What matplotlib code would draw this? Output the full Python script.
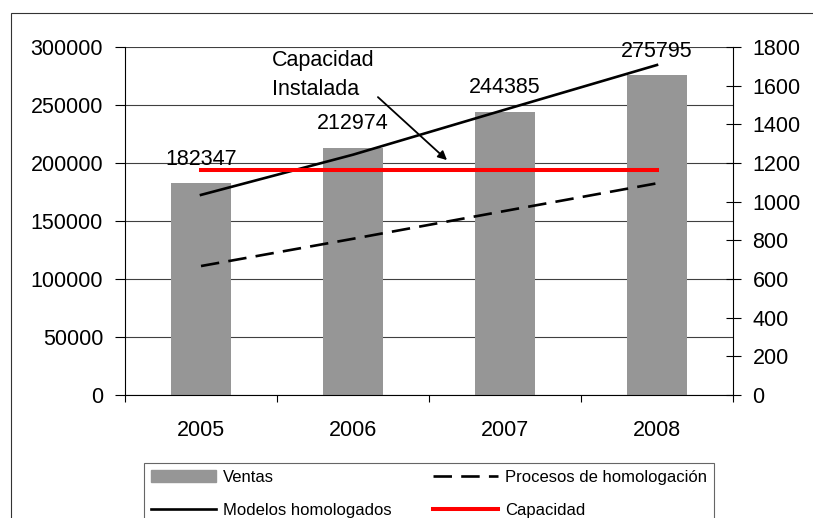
import matplotlib
matplotlib.use("Agg")
import matplotlib.pyplot as plt
from matplotlib.patches import Rectangle
from matplotlib.lines import Line2D
from matplotlib.ticker import FixedLocator

plt.rcParams['font.family'] = ['Liberation Sans', 'DejaVu Sans']

years = ['2005', '2006', '2007', '2008']
ventas = [182347, 212974, 244385, 275795]
modelos_homologados = [1035, 1243, 1476, 1707]
procesos_homologacion = [667, 808, 952, 1095]
capacidad = [1164, 1164, 1164, 1164]
left_ticks = [0, 50000, 100000, 150000, 200000, 250000, 300000]
right_ticks = [0, 200, 400, 600, 800, 1000, 1200, 1400, 1600, 1800]

W, H = 813, 518
fig = plt.figure(figsize=(W / 100, H / 100), dpi=100)
ax = fig.add_axes([125 / W, 1 - 395 / H, (733 - 125) / W, (395 - 47) / H])
ax2 = ax.twinx()

x = list(range(len(years)))
FS = 15.5

# bars
ax.bar(x, ventas, width=0.4, color='#969696', label='Ventas', zorder=2)
ax.set_axisbelow(True)
ax.set_xlim(-0.5, len(years) - 0.5)
ax.set_ylim(0, 300000)
ax.set_yticks(left_ticks)
ax.set_yticklabels([str(t) for t in left_ticks], fontsize=FS)
ax.yaxis.grid(True, color='#404040', lw=0.8)
ax.set_xticks(x)
ax.set_xticklabels(years, fontsize=FS)
ax.xaxis.set_minor_locator(FixedLocator([i - 0.5 for i in range(len(years) + 1)]))
ax.tick_params(axis='x', which='major', length=0, pad=18)
ax.tick_params(axis='x', which='minor', length=5, width=0.8, direction='out')
ax.tick_params(axis='y', length=7.2, width=0.8, direction='out', pad=8.6)
for s in ['top', 'right']:
    ax.spines[s].set_visible(False)
for s in ['left', 'bottom']:
    ax.spines[s].set_linewidth(0.8)

for xi, v in zip(x, ventas):
    ax.annotate(str(v), (xi, v), xytext=(0, 17.3), textcoords='offset points',
                ha='center', va='center', fontsize=FS)

# lines on secondary axis
ax2.plot(x, procesos_homologacion, color='black', lw=1.9, dashes=(7, 3.5),
         label='Procesos de homologación', zorder=3)
ax2.plot(x, modelos_homologados, color='black', lw=1.9,
         label='Modelos homologados', zorder=3)
ax2.plot(x, capacidad, color='#ff0000', lw=2.9, label='Capacidad', zorder=4)
ax2.set_ylim(0, 1800)
ax2.set_yticks(right_ticks)
ax2.set_yticklabels([str(t) for t in right_ticks], fontsize=FS)
ax2.tick_params(axis='y', length=10.8, width=0.8, direction='inout', pad=8.6)
for s in ['top', 'left', 'bottom']:
    ax2.spines[s].set_visible(False)
ax2.spines['right'].set_linewidth(0.8)

# annotation
ax.annotate('', xy=(0.5296, 0.675), xytext=(0.416, 0.856),
            xycoords='axes fraction', textcoords='axes fraction',
            arrowprops=dict(arrowstyle='-|>', color='black', lw=1.3,
                            mutation_scale=13, shrinkA=0, shrinkB=0))
ax.text(0.2418, 0.92, 'Capacidad\nInstalada', transform=ax.transAxes,
        ha='left', va='center', fontsize=FS, linespacing=1.5)

# legend
handles = [
    Rectangle((0, 0), 1, 1, color='#969696'),
    Line2D([], [], color='black', lw=1.9),
    Line2D([], [], color='black', lw=1.9, dashes=(7, 3.5)),
    Line2D([], [], color='#ff0000', lw=2.9),
]
labels = ['Ventas', 'Modelos homologados', 'Procesos de homologación', 'Capacidad']
leg = fig.legend(handles, labels, ncol=2, loc='upper left',
                 bbox_to_anchor=(144 / W, 1 - 463 / H), bbox_transform=fig.transFigure,
                 fontsize=12, frameon=True, fancybox=False, borderaxespad=0,
                 handlelength=3.9, handletextpad=0.42, columnspacing=2.5,
                 borderpad=0.4, labelspacing=1.1)
leg.get_frame().set_edgecolor('#404040')
leg.get_frame().set_linewidth(0.8)

# outer frame
fig.add_artist(Rectangle((11 / W, -0.2), 1.2, 1 - 12.7 / H + 0.2,
                         transform=fig.transFigure, fill=False,
                         ec='#333333', lw=0.8))

fig.savefig('out.png', dpi=100)
